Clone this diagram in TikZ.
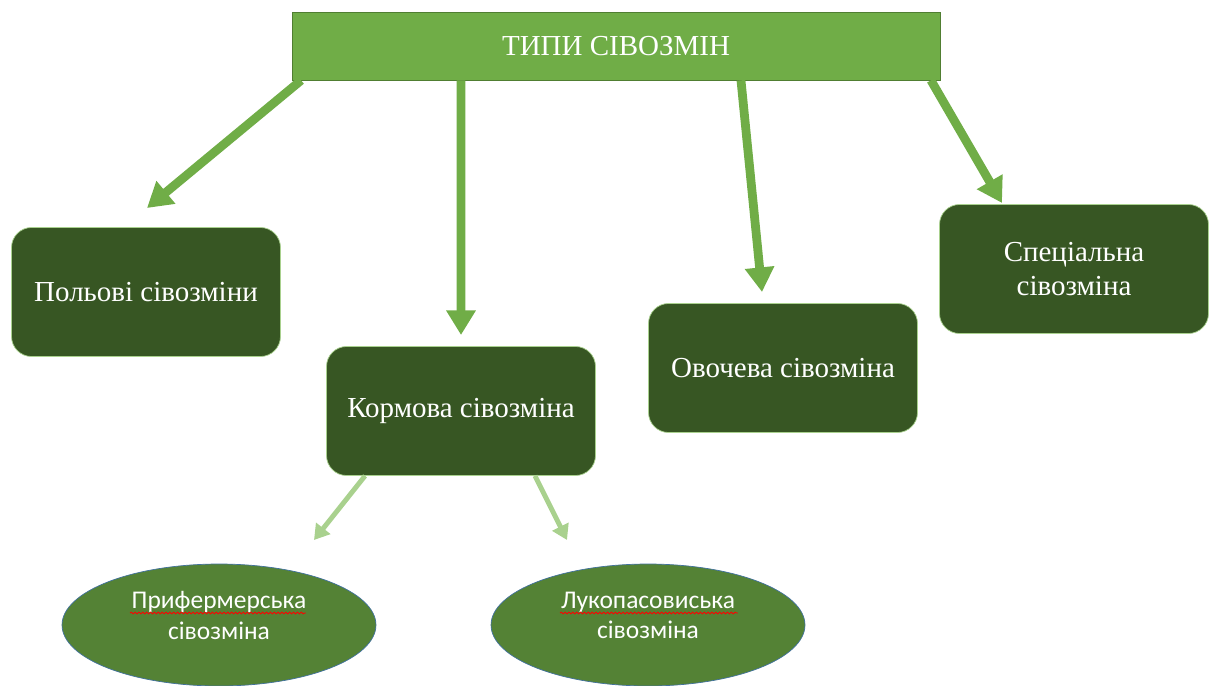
\documentclass[tikz,border=0pt]{standalone}
\usepackage{fontspec}
\setmainfont{Liberation Serif}
\newfontfamily\ovalfont{Carlito}
\usetikzlibrary{arrows.meta,shapes.geometric,decorations.pathmorphing}

\definecolor{headgreen}{HTML}{70AD47}
\definecolor{headline}{HTML}{507E32}
\definecolor{boxgreen}{HTML}{375623}
\definecolor{paleline}{HTML}{A9D18E}
\definecolor{ovalgreen}{HTML}{548235}
\definecolor{ovalline}{HTML}{41719C}

\begin{document}
\begin{tikzpicture}%
  [x=0.02cm,y=-0.02cm,
   head/.style=
    {draw=headline,fill=headgreen,text=white,minimum height=1.36cm,
     minimum width=12.96cm,font=\fontsize{16.5}{19}\selectfont},
   kind/.style=
    {draw=paleline,fill=boxgreen,text=white,rounded corners=0.4cm,
     minimum height=2.58cm,minimum width=5.38cm,align=center,
     font=\fontsize{16.5}{19.3}\selectfont},
   sub/.style=
    {ellipse,draw=ovalline,fill=ovalgreen,text=white,inner sep=0pt,
     minimum height=2.44cm,minimum width=6.28cm,align=center,text depth=11pt,
     font=\ovalfont\fontsize{14.5}{17.5}\selectfont},
   flow/.style={headgreen,line width=5pt,-{Triangle[width=16pt,length=14pt]}},
   split/.style={paleline,line width=2.8pt,-{Triangle[width=10pt,length=8.5pt]}},
   spell/.style={red,line width=0.5pt,decorate,
     decoration={snake,amplitude=0.5pt,segment length=2.2pt}}
  ]
  \useasboundingbox (0,0) rectangle (1210,686);
  \node[head] (top) at (616,46) {ТИПИ СІВОЗМІН};
  \node[kind] (field) at (146,292) {Польові сівозміни};
  \node[kind] (fodder) at (461,411) {Кормова сівозміна};
  \node[kind] (veg) at (783,368) {Овочева сівозміна};
  \node[kind] (special) at (1074,269) {Спеціальна\\сівозміна};
  \node[sub] (farm) at (219,625) {Прифермерська\\сівозміна};
  \node[sub] (meadow) at (648,625) {Лукопасовиська\\сівозміна};

  \coordinate (t1) at (147,208);
  \coordinate (t2) at (461,335);
  \coordinate (t3) at (762,292);
  \coordinate (t4) at (1002,203);
  \coordinate (s1) at (314,540);
  \coordinate (s2) at (567,540);
  \draw[flow] ([xshift=-6.3cm]top.south) -- (t1);
  \draw[flow] ([xshift=-3.1cm]top.south) -- (t2);
  \draw[flow] ([xshift=2.5cm]top.south) -- (t3);
  \draw[flow] ([xshift=6.3cm]top.south) -- (t4);
  \draw[split] ([xshift=-1.92cm]fodder.south) -- (s1);
  \draw[split] ([xshift=1.48cm]fodder.south) -- (s2);

  % spelling marks under the first lines
  \draw[spell] ([xshift=-1.78cm,yshift=0.24cm]farm.center) -- ([xshift=1.74cm,yshift=0.24cm]farm.center);
  \draw[spell] ([xshift=-1.76cm,yshift=0.24cm]meadow.center) -- ([xshift=1.8cm,yshift=0.24cm]meadow.center);
\end{tikzpicture}
\end{document}
